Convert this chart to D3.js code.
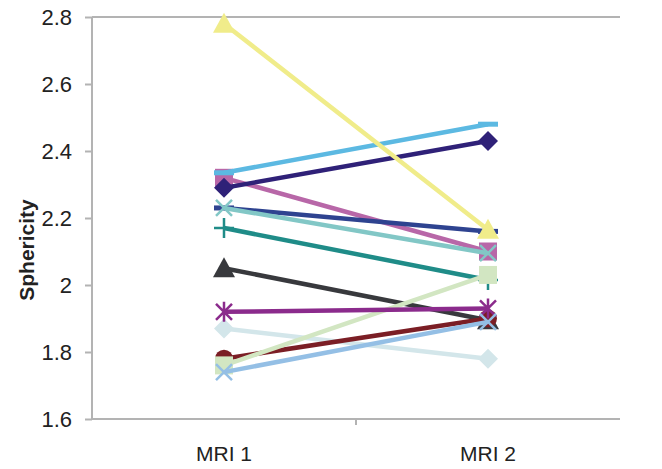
<!DOCTYPE html>
<html><head><meta charset="utf-8">
<script src="https://cdn.jsdelivr.net/npm/d3@7"></script>
<style>body{margin:0;background:#fff}svg{display:block}text{font-family:"Liberation Sans",Arial,sans-serif;fill:#222}</style>
</head><body><svg id="c" width="662" height="469"></svg>
<script>
const categories = ["MRI 1", "MRI 2"];
const yTicks = [1.6, 1.8, 2.0, 2.2, 2.4, 2.6, 2.8];
const seriesNames = ["s1","s2","s3","s4","s5","s6","s7","s8","s9","s10","s11","s12","s13"];
const seriesValues = [
  [2.05, 1.895],
  [1.87, 1.78],
  [2.17, 2.015],
  [1.78, 1.90],
  [1.76, 2.03],
  [2.32, 2.10],
  [2.29, 2.43],
  [2.335, 2.48],
  [2.23, 2.16],
  [2.23, 2.095],
  [2.78, 2.165],
  [1.92, 1.93],
  [1.74, 1.89]
];
const seriesColors = ["#38393d","#d3e6ea","#1f8c88","#7b1e25","#d2e6c2","#b867a8","#2f2178","#5cb9e2","#2e4390","#82c7c6","#f0ec8a","#8b2b8c","#94bfe5"];
const seriesMarkers = ["triangle","diamond","plus","circle","square","square","diamond","dash","dash","x","triangle","star","x"];

const svg = d3.select("#c");
const x = d3.scaleBand().domain(categories).range([92, 620]);
const y = d3.scaleLinear().domain([1.6, 2.8]).range([419, 17]);
const axisColor = "#b3b3b3";

svg.append("line").attr("x1", 92).attr("x2", 620).attr("y1", y(2.8)).attr("y2", y(2.8))
  .attr("stroke", axisColor).attr("stroke-width", 2);

const yAxis = svg.append("g").attr("transform", "translate(92,0)")
  .call(d3.axisLeft(y).tickValues(yTicks).tickSize(7).tickPadding(13).tickFormat(d => d3.format("")(+d.toFixed(1))));
yAxis.selectAll("path,line").attr("stroke", axisColor).attr("stroke-width", 2);
yAxis.select("path").attr("d", `M0,${y(1.6)}V${y(2.8)}`);
yAxis.selectAll("text").attr("font-size", 22).attr("fill", "#222").attr("dy", "0.36em");

const xAxis = svg.append("g").attr("transform", `translate(0,${y(1.6)})`)
  .call(d3.axisBottom(x).tickSize(0).tickPadding(27));
xAxis.select("path").attr("stroke", axisColor).attr("stroke-width", 2).attr("d", `M92,0H620`);
xAxis.selectAll("text").attr("font-size", 21).attr("fill", "#222");
xAxis.append("line").attr("x1", x("MRI 2")).attr("x2", x("MRI 2")).attr("y1", 0).attr("y2", 6)
  .attr("stroke", axisColor).attr("stroke-width", 2);

svg.append("text").attr("transform", `translate(34,250) rotate(-90)`)
  .attr("text-anchor", "middle").attr("font-size", 21).attr("font-weight", "bold").text("Sphericity");

const cx = c => x(c) + x.bandwidth() / 2;
const line = d3.line().x((d, i) => cx(categories[i])).y(d => y(d));

function marker(g, type, color, px, py) {
  const s = 10;
  if (type === "triangle") {
    g.append("path").attr("d", `M${px},${py - s - 1}L${px + s + 1},${py + s - 1}L${px - s - 1},${py + s - 1}Z`).attr("fill", color);
  } else if (type === "diamond") {
    g.append("path").attr("d", `M${px},${py - s}L${px + s},${py}L${px},${py + s}L${px - s},${py}Z`).attr("fill", color);
  } else if (type === "square") {
    g.append("rect").attr("x", px - 9).attr("y", py - 9).attr("width", 18).attr("height", 18).attr("fill", color);
  } else if (type === "circle") {
    g.append("circle").attr("cx", px).attr("cy", py).attr("r", 9).attr("fill", color);
  } else if (type === "dash") {
    g.append("rect").attr("x", px - 10).attr("y", py - 2.5).attr("width", 20).attr("height", 5).attr("fill", color);
  } else if (type === "plus") {
    g.append("path").attr("d", `M${px - 10},${py}H${px + 10}M${px},${py - 10}V${py + 10}`).attr("stroke", color).attr("stroke-width", 2.5);
  } else if (type === "x") {
    g.append("path").attr("d", `M${px - 8},${py - 8}L${px + 8},${py + 8}M${px + 8},${py - 8}L${px - 8},${py + 8}`).attr("stroke", color).attr("stroke-width", 2.5);
  } else if (type === "star") {
    g.append("path").attr("d", `M${px - 8},${py - 8}L${px + 8},${py + 8}M${px + 8},${py - 8}L${px - 8},${py + 8}M${px},${py - 10}V${py + 10}`).attr("stroke", color).attr("stroke-width", 2.5);
  }
}

seriesValues.forEach((vals, si) => {
  const g = svg.append("g").attr("class", "series").attr("data-name", seriesNames[si]);
  g.append("path").attr("d", line(vals)).attr("fill", "none").attr("stroke", seriesColors[si]).attr("stroke-width", 4.5);
  vals.forEach((v, i) => marker(g, seriesMarkers[si], seriesColors[si], cx(categories[i]), y(v)));
});
</script></body></html>
